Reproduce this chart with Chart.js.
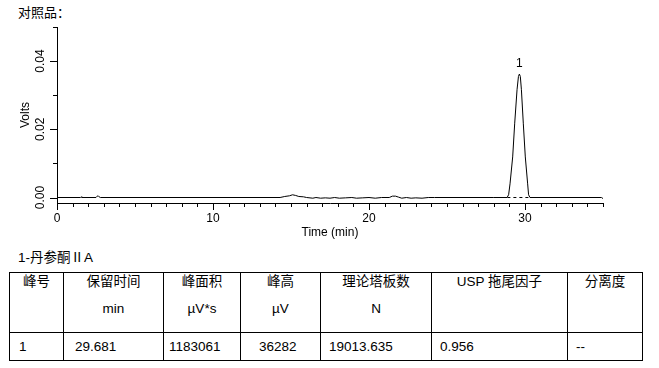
<!DOCTYPE html>
<html>
<head>
<meta charset="utf-8">
<script src="https://cdn.jsdelivr.net/npm/chart.js@4.4.1/dist/chart.umd.min.js"></script>
<style>
    body { margin: 0; background: #fff; width: 659px; height: 368px; position: relative; overflow: hidden;
           font-family: "Liberation Sans", "Noto Sans CJK SC", sans-serif; color: #000; }
    #chart { position: absolute; left: 0; top: 0; }
    .title { position: absolute; left: 18px; top: 4px; font-size: 13px; line-height: 16px; font-family: "Noto Sans CJK SC", sans-serif; }
    .caption { position: absolute; left: 18px; top: 250px; font-size: 13.5px; line-height: 16px; }
    table { position: absolute; left: 9px; top: 272px; border-collapse: collapse; table-layout: fixed; font-size: 13.5px; }
    td { border: 1px solid #000; padding: 0; }
    tr.head td { height: 59px; vertical-align: top; text-align: center; }
    tr.head td div { line-height: 16px; padding-top: 1px; }
    tr.head td div.u { margin-top: 10px; }
    tr.row td { height: 27px; vertical-align: middle; padding-left: 8px; }
</style>
</head>
<body>
<div class="title">对照品：</div>
<canvas id="chart" width="659" height="245"></canvas>
<div class="caption">1-丹参酮ⅡA</div>
<table>
    <colgroup>
        <col style="width:54px"><col style="width:100px"><col style="width:77px"><col style="width:80px">
        <col style="width:111px"><col style="width:136px"><col style="width:75px">
    </colgroup>
    <tr class="head">
        <td><div>峰号</div></td>
        <td><div>保留时间</div><div class="u">min</div></td>
        <td><div>峰面积</div><div class="u">µV*s</div></td>
        <td><div>峰高</div><div class="u">µV</div></td>
        <td><div>理论塔板数</div><div class="u">N</div></td>
        <td><div>USP 拖尾因子</div></td>
        <td><div>分离度</div></td>
    </tr>
    <tr class="row">
        <td style="padding-left:9px">1</td>
        <td style="padding-left:11px">29.681</td>
        <td style="padding-left:5px">1183061</td>
        <td style="padding-left:18px">36282</td>
        <td>19013.635</td>
        <td>0.956</td>
        <td>--</td>
    </tr>
</table>
<script>
// chromatogram trace (time in min, signal in volts)
const time = [0, 1.50, 1.55, 1.60, 2.50, 2.58, 2.64, 2.70, 2.78,
    14.3, 14.6, 14.9, 15.1, 15.3, 15.5, 15.8, 16.0, 16.4, 16.6, 16.9, 17.2, 17.5, 17.8,
    18.1, 18.5, 18.9, 19.2, 19.6, 20.0, 20.4, 20.8, 21.3, 21.5, 21.7, 21.9, 22.1, 22.4,
    22.7, 23.0, 23.4, 23.8, 24.2, 28.0,
    28.85, 28.95, 29.04, 29.21, 29.34, 29.49, 29.58, 29.64, 29.70, 29.77, 29.89, 30.02,
    30.17, 30.23, 30.32, 34.9, 35.0];
const volts = [0, 0, 0.0002, 0, 0, 0.0004, 0.0005, 0.0002, 0,
    0, 0.0003, 0.0005, 0.0008, 0.0006, 0.0003, 0.0002, 0, -0.0002, 0, -0.0002, -0.0001, -0.0002, 0,
    -0.0002, -0.0001, 0, -0.0002, -0.0001, 0, -0.0002, 0, 0, 0.0004, 0.0004, 0.0001, -0.0002, 0,
    -0.0002, -0.0001, -0.0002, 0, 0, 0,
    0, 0.0008, 0.004, 0.0119, 0.0218, 0.0316, 0.0355, 0.0362, 0.0355, 0.0316, 0.0218, 0.0119,
    0.004, 0.0008, 0, 0, -0.0003];
// integration baseline under peak 1
const baseTime = [28.87, 30.25];
const baseVolts = [0, 0];
const peakLabels = ['1'];

const yTicks = [0, 0.01, 0.02, 0.03, 0.04, 0.05];
const yLabels = ['0.00', '', '0.02', '', '0.04', ''];
const xMajor = 10;

Chart.defaults.font.family = '"Liberation Sans", Arial, sans-serif';
Chart.defaults.font.size = 12;
Chart.defaults.color = '#000';

// tick marks (long/short), rotated y labels, peak number
const decor = {
    id: 'decor',
    afterDraw(chart) {
        const { ctx, scales: { x, y } } = chart;
        ctx.save();
        ctx.setLineDash([]);
        ctx.strokeStyle = '#000';
        ctx.lineWidth = 1;
        ctx.beginPath();
        x.ticks.forEach(t => {
            const px = Math.round(x.getPixelForValue(t.value)) + 0.5;
            const len = t.value % xMajor === 0 ? 7 : 4;
            ctx.moveTo(px, x.top);
            ctx.lineTo(px, x.top + len);
        });
        yTicks.forEach((v, i) => {
            const py = Math.round(y.getPixelForValue(v)) + 0.5;
            const len = yLabels[i] ? 7 : 4;
            ctx.moveTo(y.right, py);
            ctx.lineTo(y.right - len, py);
        });
        ctx.stroke();

        ctx.fillStyle = '#000';
        ctx.font = '12px "Liberation Sans", Arial, sans-serif';
        ctx.textAlign = 'center';
        ctx.textBaseline = 'middle';
        yTicks.forEach((v, i) => {
            if (!yLabels[i]) return;
            ctx.save();
            ctx.translate(40.5, y.getPixelForValue(v));
            ctx.rotate(-Math.PI / 2);
            ctx.fillText(yLabels[i], 0, 0);
            ctx.restore();
        });

        let top = 0;
        volts.forEach((v, i) => { if (v > volts[top]) top = i; });
        ctx.fillText(peakLabels[0], x.getPixelForValue(time[top]), y.getPixelForValue(volts[top]) - 10);
        ctx.restore();
    }
};

new Chart(document.getElementById('chart'), {
    type: 'line',
    data: {
        datasets: [{
            data: time.map((t, i) => ({ x: t, y: volts[i] })),
            borderColor: '#000',
            borderWidth: 1,
            pointRadius: 0,
            tension: 0
        }, {
            data: baseTime.map((t, i) => ({ x: t, y: baseVolts[i] })),
            borderColor: '#000',
            borderWidth: 1,
            borderDash: [3, 3],
            pointRadius: 0
        }]
    },
    options: {
        responsive: false,
        animation: false,
        layout: { padding: { top: 27, right: 56, left: 0, bottom: 0 } },
        plugins: { legend: { display: false }, tooltip: { enabled: false } },
        scales: {
            x: {
                type: 'linear', min: 0, max: 35,
                grid: { display: false },
                border: { color: '#000' },
                ticks: {
                    stepSize: 1, autoSkip: false, maxRotation: 0, padding: 0,
                    callback: v => (v % xMajor === 0 ? v : '')
                },
                title: { display: true, text: 'Time (min)', padding: { top: 0, bottom: 5 } },
                afterFit: s => { s.height = 42; }
            },
            y: {
                min: -0.00161, max: 0.05,
                grid: { display: false },
                border: { color: '#000' },
                ticks: { display: false },
                afterBuildTicks: s => { s.ticks = yTicks.map(v => ({ value: v })); },
                title: { display: true, text: 'Volts', padding: { top: 18, bottom: 0 } },
                afterFit: s => { s.width = 57; }
            }
        }
    },
    plugins: [decor]
});
</script>
</body>
</html>
